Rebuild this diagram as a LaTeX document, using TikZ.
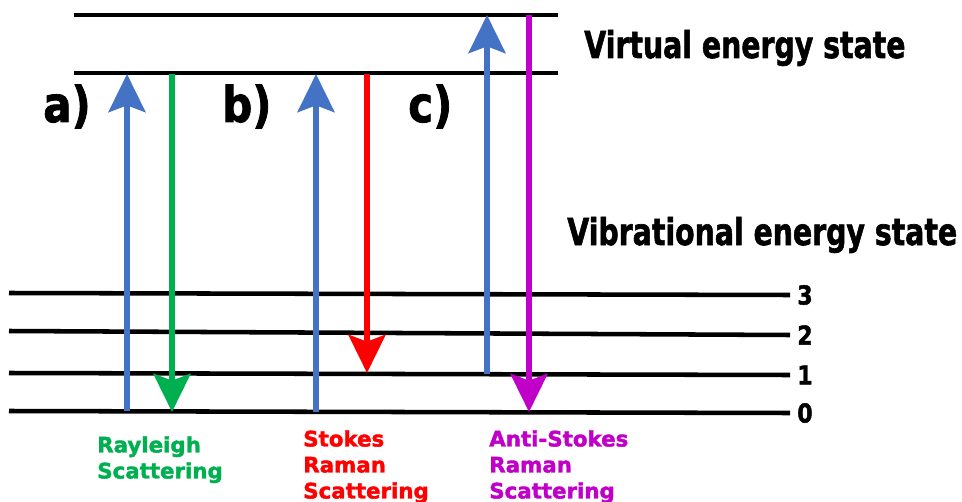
\documentclass[tikz,border=0pt]{standalone}
\usepackage{fontspec}
\setmainfont{DejaVu Sans}
\newfontfamily\heavy{DejaVu Sans}[BoldFont=* Bold, BoldFeatures={FakeBold=1.8}]
\usetikzlibrary{arrows.meta}
\definecolor{pblue}{HTML}{4472C4}
\definecolor{pgreen}{HTML}{00B050}
\definecolor{pred}{HTML}{FF0000}
\definecolor{pmag}{HTML}{C000C8}
\tikzset{
  level/.style={line width=3.4pt, black},
  trans/.style={line width=4.8pt, -{Stealth[length=28.5pt, width=27.5pt, inset=5pt]}},
  biglbl/.style={inner sep=0pt, anchor=base west, font=\heavy\bfseries\fontsize{27.8pt}{30pt}\selectfont},
  caselbl/.style={inner sep=0pt, anchor=base west, font=\heavy\bfseries\fontsize{37pt}{40pt}\selectfont},
  numlbl/.style={inner sep=0pt, anchor=west, font=\heavy\bfseries\fontsize{19.5pt}{20pt}\selectfont},
  scatlbl/.style={inner sep=0pt, anchor=north west, align=left, font=\heavy\bfseries\fontsize{16pt}{19.5pt}\selectfont}
}
\begin{document}
\begin{tikzpicture}[x=0.75pt, y=-0.75pt]
\useasboundingbox (0,0) rectangle (962,502);
% virtual levels
\coordinate (vtl) at (74,15); \coordinate (vtr) at (558,15);
\coordinate (vbl) at (74,73); \coordinate (vbr) at (558,73);
\draw[level] (vtl) -- (vtr);
\draw[level] (vbl) -- (vbr);
% vibrational levels
\coordinate (l3a) at (9,293); \coordinate (l3b) at (790,295);
\coordinate (l2a) at (9,331); \coordinate (l2b) at (790,335);
\coordinate (l1a) at (9,373); \coordinate (l1b) at (790,375);
\coordinate (l0a) at (9,411); \coordinate (l0b) at (790,413);
\draw[level] (l3a) -- (l3b);
\draw[level] (l2a) -- (l2b);
\draw[level] (l1a) -- (l1b);
\draw[level] (l0a) -- (l0b);
\node[numlbl] (n3) at (797,295) {\scalebox{0.85}[1]{3}};
\node[numlbl] (n2) at (797,335) {\scalebox{0.85}[1]{2}};
\node[numlbl] (n1) at (797,375) {\scalebox{0.85}[1]{1}};
\node[numlbl] (n0) at (797,413) {\scalebox{0.85}[1]{0}};
% arrow end points
\coordinate (a0) at (127,411); \coordinate (a1) at (127,74);
\coordinate (g0) at (172,74);  \coordinate (g1) at (172,412);
\coordinate (b0) at (316,412); \coordinate (b1) at (316,74);
\coordinate (r0) at (367,74);  \coordinate (r1) at (367,373);
\coordinate (c0) at (487,374); \coordinate (c1) at (487,15);
\coordinate (m0) at (529,15);  \coordinate (m1) at (529,412);
\draw[trans, pblue] (a0) -- (a1);
\draw[trans, pgreen] (g0) -- (g1);
\draw[trans, pblue] (b0) -- (b1);
\draw[trans, pred] (r0) -- (r1);
\draw[trans, pblue] (c0) -- (c1);
\draw[trans, pmag] (m0) -- (m1);
% case labels
\node[caselbl] (la) at (43,122) {\scalebox{0.85}[1]{a)}};
\node[caselbl] (lb) at (222,122) {\scalebox{0.85}[1]{b)}};
\node[caselbl] (lc) at (408,122) {\scalebox{0.85}[1]{c)}};
% state labels
\node[biglbl] (virt) at (584,58) {\scalebox{0.765}[1]{Virtual energy state}};
\node[biglbl] (vib) at (567,245) {\scalebox{0.765}[1]{Vibrational energy state}};
% scattering labels
\node[scatlbl, text=pgreen] (ray) at (97,436) {Rayleigh\\Scattering};
\node[scatlbl, text=pred] (sto) at (303,430) {Stokes\\Raman\\Scattering};
\node[scatlbl, text=pmag] (ast) at (489,430) {Anti-Stokes\\Raman\\Scattering};
\end{tikzpicture}
\end{document}
